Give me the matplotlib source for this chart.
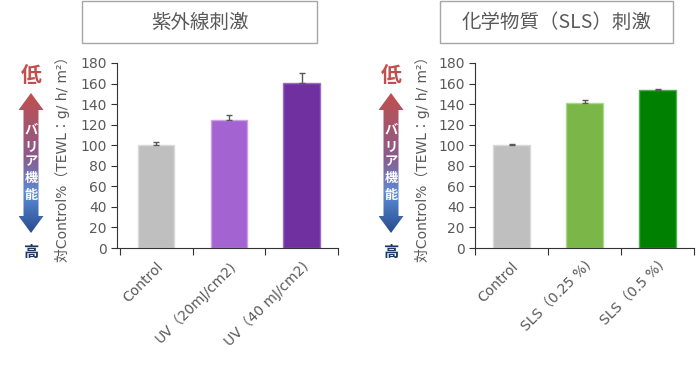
import matplotlib

matplotlib.use("Agg")
import matplotlib.pyplot as plt
import numpy as np
from matplotlib.patches import Polygon, Rectangle

plt.rcParams["font.family"] = ["DejaVu Sans", "Noto Sans CJK JP"]

GRAY = "#595959"

# Panel data
uv_labels = ["Control", "UV（20mJ/cm2)", "UV（40 mJ/cm2)"]
uv_values = [100, 125, 161]
uv_err = [3.5, 4, 9.5]
uv_colors = ["#BFBFBF", "#A363D1", "#7030A0"]
uv_edges = ["#D9D9D9", "#C9A3E6", "#9A6BC4"]

sls_labels = ["Control", "SLS（0.25 %)", "SLS（0.5 %)"]
sls_values = [100, 141, 154]
sls_err = [1.5, 3, 1]
sls_colors = ["#BFBFBF", "#7AB648", "#008000"]
sls_edges = ["#D9D9D9", "#A9D88A", "#4FB04F"]

yticks = [0, 20, 40, 60, 80, 100, 120, 140, 160, 180]
ylabel = "対Control%（TEWL：g/ h/ m²）"

W, H = 700, 378
fig = plt.figure(figsize=(7, 3.78), dpi=100)


def px(x0, y0, x1, y1):
    # pixel box (top-left origin) -> figure fraction rect
    return [x0 / W, 1 - y1 / H, (x1 - x0) / W, (y1 - y0) / H]


def panel(rect, labels, values, err, colors, edges, xmin):
    ax = fig.add_axes(rect)
    x = np.arange(len(values))
    ax.bar(x, values, width=0.5, color=colors, edgecolor=edges, linewidth=1, zorder=2)
    ax.errorbar(x, values, yerr=[np.zeros(len(err)), err], fmt="none",
                ecolor=GRAY, elinewidth=1, capsize=2, capthick=1, zorder=3)
    ax.set_xlim(xmin, 2.5)
    ax.set_ylim(0, 180)
    ax.set_yticks(yticks)
    ax.set_xticks([-0.5, 0.5, 1.5, 2.5])
    ax.set_xticklabels([])
    ax.set_xticks(x, minor=True)
    ax.set_xticklabels(labels, minor=True, rotation=45, ha="right", va="top",
                       rotation_mode="anchor", color=GRAY, fontsize=10)
    ax.tick_params(axis="x", which="minor", length=0, pad=8)
    ax.tick_params(axis="x", which="major", length=5, color="#333333")
    ax.tick_params(axis="y", length=4, color="#333333", labelcolor=GRAY, labelsize=10)
    for s in ["top", "right"]:
        ax.spines[s].set_visible(False)
    for s in ["left", "bottom"]:
        ax.spines[s].set_color("#333333")
    return ax


panel(px(117, 63, 338, 248), uv_labels, uv_values, uv_err, uv_colors, uv_edges, -0.54)
panel(px(475, 63, 694, 248), sls_labels, sls_values, sls_err, sls_colors, sls_edges, -0.5)

# overlay in pixel coordinates for titles, arrows and labels
ov = fig.add_axes([0, 0, 1, 1], facecolor="none")
ov.set_xlim(0, W)
ov.set_ylim(H, 0)
ov.axis("off")

titles = [("紫外線刺激", 82, 317), ("化学物質（SLS）刺激", 440, 673)]
for text, x0, x1 in titles:
    ov.add_patch(Rectangle((x0, 1), x1 - x0, 42, fill=False, edgecolor="#A6A6A6", lw=1))
    ov.text((x0 + x1) / 2, 22, text, ha="center", va="center", fontsize=14, color=GRAY,
            family=["Noto Sans CJK JP", "DejaVu Sans"])

stops = [(0.0, (192, 80, 77)), (0.45, (140, 90, 140)), (0.72, (90, 140, 215)), (1.0, (40, 75, 140))]
t = np.linspace(0, 1, 200)
grad = np.stack([np.interp(t, [s[0] for s in stops], [s[1][i] for s in stops]) for i in range(3)], axis=1) / 255
grad = grad[:, None, :]

for cx, lx in [(31, 62), (391, 422)]:
    top, hb_top, hb_bot, bot = 93, 110, 216, 233
    hw, sw = 12.5, 7.5
    verts = [(cx, top), (cx + hw, hb_top), (cx + sw, hb_top), (cx + sw, hb_bot), (cx + hw, hb_bot),
             (cx, bot), (cx - hw, hb_bot), (cx - sw, hb_bot), (cx - sw, hb_top), (cx - hw, hb_top)]
    poly = Polygon(verts, closed=True, facecolor="none", edgecolor="none")
    ov.add_patch(poly)
    im = ov.imshow(grad, extent=(cx - hw, cx + hw, bot, top), aspect="auto", zorder=1)
    im.set_clip_path(poly)
    ov.text(cx, 75, "低", ha="center", va="center", fontsize=15, fontweight="bold",
            color="#C0504D", family=["Noto Sans CJK JP"])
    ov.text(cx, 252, "高", ha="center", va="center", fontsize=11, fontweight="bold",
            color="#203864", family=["Noto Sans CJK JP"])
    for ch, cy in zip("バリア機能", [130, 146, 161, 178, 195]):
        ov.text(cx, cy, ch, ha="center", va="center", fontsize=9.5, fontweight="bold",
                color="white", family=["Noto Sans CJK JP"], zorder=2)
    ov.text(lx, 156, ylabel, ha="center", va="center", rotation=90, fontsize=10,
            color=GRAY, family=["DejaVu Sans", "Noto Sans CJK JP"])

fig.savefig("out.png", dpi=100)
